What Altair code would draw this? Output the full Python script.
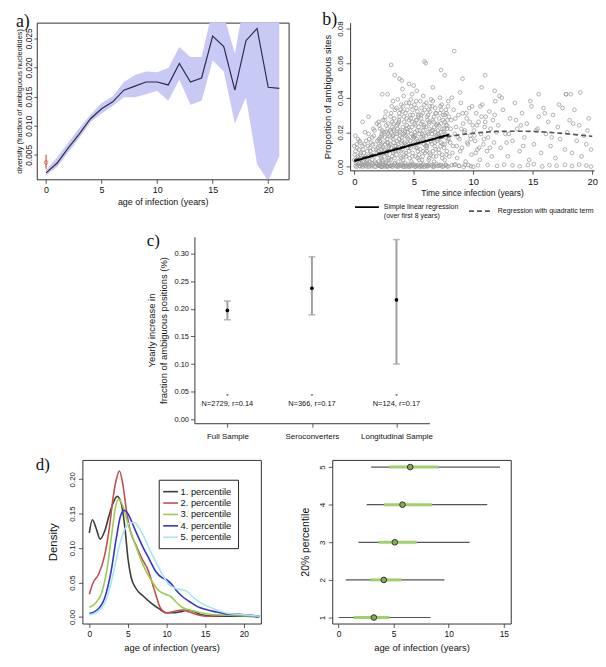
import altair as alt
import pandas as pd

FONT = "Liberation Sans"
SERIF = "Liberation Serif"

# ---------------- panel a data ----------------
a_year = list(range(22))
a_mean = [0.0019, 0.0036, 0.0062, 0.0086, 0.0112, 0.0129, 0.0141, 0.0161, 0.0168, 0.0175, 0.0175,
          0.0170, 0.0207, 0.0175, 0.0182, 0.0254, 0.0236, 0.0161, 0.0246, 0.0267, 0.0166, 0.0164]
a_lo = [0.0015, 0.0029, 0.0054, 0.0079, 0.0106, 0.0121, 0.0134, 0.0149, 0.0149, 0.0154, 0.0160,
        0.0143, 0.0179, 0.0136, 0.0143, 0.0212, 0.0193, 0.0104, 0.0149, 0.0034, 0.0005, 0.0048]
a_hi = [0.0024, 0.0046, 0.0071, 0.0096, 0.0119, 0.0139, 0.0150, 0.0175, 0.0187, 0.0193, 0.0192,
        0.0199, 0.0235, 0.0218, 0.0218, 0.0300, 0.0290, 0.0224, 0.0330, 0.0350, 0.0350, 0.0350]
a_ref_year = [0]
a_ref_val = [0.0037]
a_ref_lo = [0.0026]
a_ref_hi = [0.0050]

# ---------------- panel b data ----------------
b_x = [
    # floor
    0.1, 0.3, 0.5, 0.6, 0.8, 1.0, 1.1, 1.3, 1.5, 1.7, 1.9, 2.0, 2.2, 2.4, 2.6, 2.7, 2.9, 3.1, 3.3, 3.4,
    3.6, 3.8, 4.0, 4.1, 4.3, 4.5, 4.7, 4.9, 5.0, 5.2, 5.4, 5.6, 5.8, 6.0, 6.1, 6.3, 6.5, 6.7, 6.9, 7.1,
    7.3, 7.5, 7.7, 7.9, 8.2, 8.5, 8.8, 9.3, 9.8, 10.4,
    0.2, 0.45, 0.7, 0.95, 1.2, 1.45, 1.8, 2.1, 2.35, 2.55, 2.8, 3.0, 3.2, 3.5, 3.7, 3.9, 4.2, 4.4, 4.6, 4.8,
    5.1, 5.3, 5.5, 5.7, 5.9, 6.2, 6.6, 7.0, 7.4, 7.8,
    11.2, 12.0, 12.6, 13.3, 13.9, 14.6, 15.1, 15.8, 16.4, 17.0, 17.7, 18.3, 18.9, 19.5, 19.9,
    # early years
    0.0, 0.1, 0.2, 0.2, 0.3, 0.4, 0.4, 0.5, 0.6, 0.7, 0.7, 0.8, 0.9, 1.0, 1.0, 1.1, 1.2, 1.3, 1.3, 1.4,
    1.5, 1.5, 1.6, 1.7, 1.8, 1.8, 1.9, 2.0, 0.1, 0.3, 0.5, 0.9, 1.2, 1.6, 1.9, 0.0, 0.6, 1.1, 1.4, 1.7,
    0.05, 0.15, 0.25, 0.35, 0.45, 0.55, 0.65, 0.75, 0.85, 0.95, 1.05, 1.15, 1.25, 1.35, 1.45, 1.55, 1.65,
    1.75, 1.85, 1.95,
    # dense cloud 2-8 years
    2.05, 2.1, 2.15, 2.2, 2.25, 2.3, 2.35, 2.4, 2.45, 2.1, 2.2, 2.3, 2.4, 2.15, 2.35,
    2.55, 2.6, 2.65, 2.7, 2.75, 2.8, 2.85, 2.9, 2.95, 2.6, 2.7, 2.8, 2.9, 2.65, 2.85,
    3.05, 3.1, 3.15, 3.2, 3.25, 3.3, 3.35, 3.4, 3.45, 3.1, 3.2, 3.3, 3.4, 3.15, 3.35, 3.25, 3.45,
    3.55, 3.6, 3.65, 3.7, 3.75, 3.8, 3.85, 3.9, 3.95, 3.6, 3.7, 3.8, 3.9, 3.65, 3.85, 3.75, 3.95,
    4.05, 4.1, 4.15, 4.2, 4.25, 4.3, 4.35, 4.4, 4.45, 4.1, 4.2, 4.3, 4.4, 4.15, 4.35, 4.25, 4.45, 4.05,
    4.55, 4.6, 4.65, 4.7, 4.75, 4.8, 4.85, 4.9, 4.95, 4.6, 4.7, 4.8, 4.9, 4.65, 4.85, 4.75, 4.95,
    5.05, 5.1, 5.15, 5.2, 5.25, 5.3, 5.35, 5.4, 5.45, 5.1, 5.2, 5.3, 5.4, 5.15, 5.35, 5.25, 5.45,
    5.55, 5.6, 5.65, 5.7, 5.75, 5.8, 5.85, 5.9, 5.95, 5.6, 5.7, 5.8, 5.9, 5.65, 5.85, 5.75,
    6.05, 6.1, 6.15, 6.2, 6.25, 6.3, 6.35, 6.4, 6.45, 6.1, 6.2, 6.3, 6.4, 6.15, 6.35,
    6.55, 6.6, 6.65, 6.7, 6.75, 6.8, 6.85, 6.9, 6.95, 6.6, 6.7, 6.8, 6.9, 6.65,
    7.05, 7.1, 7.15, 7.2, 7.25, 7.3, 7.35, 7.4, 7.45, 7.1, 7.2, 7.3, 7.4,
    7.55, 7.6, 7.65, 7.7, 7.75, 7.8, 7.85, 7.9, 7.95, 7.6, 7.7, 7.8,
    2.02, 2.08, 2.12, 2.18, 2.22, 2.28, 2.32, 2.38, 2.42, 2.48, 2.05, 2.25,
    2.52, 2.58, 2.62, 2.68, 2.72, 2.78, 2.82, 2.88, 2.92, 2.98, 2.55, 2.75,
    3.02, 3.08, 3.12, 3.18, 3.22, 3.28, 3.32, 3.38, 3.42, 3.48, 3.05, 3.25,
    3.52, 3.58, 3.62, 3.68, 3.72, 3.78, 3.82, 3.88, 3.92, 3.98, 3.55, 3.75,
    4.02, 4.08, 4.12, 4.18, 4.22, 4.28, 4.32, 4.38, 4.42, 4.48, 4.05, 4.25,
    4.52, 4.58, 4.62, 4.68, 4.72, 4.78, 4.82, 4.88, 4.92, 4.98, 4.55, 4.75,
    5.02, 5.08, 5.12, 5.18, 5.22, 5.28, 5.32, 5.38, 5.42, 5.48, 5.05, 5.25,
    5.52, 5.58, 5.62, 5.68, 5.72, 5.78, 5.82, 5.88, 5.92, 5.98, 5.55, 5.75,
    6.02, 6.08, 6.12, 6.18, 6.22, 6.28, 6.32, 6.38, 6.42, 6.48, 6.05, 6.25,
    6.52, 6.58, 6.62, 6.68, 6.72, 6.78, 6.82, 6.88, 6.92, 6.98, 6.55, 6.75,
    7.02, 7.08, 7.12, 7.18, 7.22, 7.28, 7.32, 7.38, 7.42, 7.48, 7.05, 7.25,
    7.52, 7.58, 7.62, 7.68, 7.72, 7.78, 7.82, 7.88, 7.92, 7.98, 7.55, 7.75,
    # 8-12 years
    8.05, 8.15, 8.25, 8.35, 8.45, 8.55, 8.65, 8.75, 8.85, 8.95, 9.05, 9.15, 9.25, 9.35, 9.45, 9.55, 9.65,
    9.75, 9.85, 9.95, 10.05, 10.15, 10.25, 10.35, 10.45, 10.55, 10.65, 10.75, 10.85, 10.95, 11.05, 11.15,
    11.25, 11.35, 11.45, 11.55, 11.65, 11.75, 11.85, 11.95, 8.2, 8.6, 9.0, 9.4, 9.8, 10.2, 10.6, 11.0, 11.4, 11.8,
    8.1, 8.3, 8.5, 8.7, 8.9, 9.1, 9.3, 9.5, 9.7, 9.9, 10.1, 10.3, 10.5, 10.7, 10.9, 8.4, 8.8, 9.2, 9.6, 10.0,
    # 12-20 years
    12.1, 12.3, 12.5, 12.7, 12.9, 13.1, 13.3, 13.5, 13.7, 13.9, 14.1, 14.3, 14.5, 14.7, 14.9, 15.1, 15.3,
    15.5, 15.7, 15.9, 16.1, 16.3, 16.5, 16.7, 16.9, 17.1, 17.3, 17.5, 17.7, 17.9, 18.1, 18.3, 18.5, 18.7,
    18.9, 19.1, 19.3, 19.5, 19.7, 19.9, 12.4, 13.0, 13.6, 14.2, 14.8, 15.4, 16.0, 16.6, 17.2, 17.8, 18.4,
    19.0, 19.6, 12.8, 14.0,
    # outliers
    3.1, 3.4, 3.8, 4.0, 4.6, 5.0, 5.9, 6.0, 7.3, 7.6, 8.4, 9.1, 10.7, 11.0, 11.8, 15.5, 17.8, 18.2, 2.35, 1.2,
    0.7, 2.8, 6.6, 8.9, 12.2,
]
b_y = [
    0.0005, 0.0012, 0.0003, 0.0018, 0.0008, 0.0002, 0.0015, 0.0006, 0.0011, 0.0001, 0.0017, 0.0007, 0.0004,
    0.0013, 0.0009, 0.0002, 0.0016, 0.0005, 0.0010, 0.0019, 0.0003, 0.0008, 0.0014, 0.0001, 0.0006, 0.0012,
    0.0004, 0.0017, 0.0009, 0.0002, 0.0011, 0.0005, 0.0015, 0.0007, 0.0003, 0.0013, 0.0008, 0.0001, 0.0016,
    0.0006, 0.0010, 0.0004, 0.0012, 0.0002, 0.0009, 0.0014, 0.0005, 0.0011, 0.0003, 0.0008,
    0.0, 0.0004, 0.0, 0.0008, 0.0, 0.0003, 0.0, 0.0006, 0.0, 0.0002, 0.0, 0.0005, 0.0, 0.0003, 0.0, 0.0007,
    0.0, 0.0002, 0.0, 0.0004, 0.0, 0.0006, 0.0, 0.0001, 0.0, 0.0003, 0.0, 0.0005, 0.0, 0.0002,
    0.0010, 0.0005, 0.0012, 0.0008, 0.0003, 0.0010, 0.0015, 0.0002, 0.0009, 0.0006, 0.0011, 0.0004, 0.0013,
    0.0007, 0.0001,
    0.004, 0.009, 0.003, 0.013, 0.006, 0.002, 0.010, 0.007, 0.004, 0.012, 0.003, 0.008, 0.005, 0.015, 0.002,
    0.009, 0.006, 0.011, 0.003, 0.007, 0.017, 0.004, 0.010, 0.006, 0.013, 0.002, 0.008, 0.011, 0.018, 0.016,
    0.014, 0.020, 0.019, 0.022, 0.025, 0.012, 0.005, 0.004, 0.014, 0.021,
    0.007, 0.002, 0.011, 0.005, 0.015, 0.008, 0.001, 0.010, 0.013, 0.006, 0.003, 0.012, 0.016, 0.009, 0.002,
    0.013, 0.018, 0.003, 0.010, 0.015,
    0.003, 0.007, 0.012, 0.017, 0.005, 0.010, 0.021, 0.014, 0.008, 0.024, 0.002, 0.019, 0.027, 0.015, 0.004,
    0.006, 0.013, 0.020, 0.003, 0.016, 0.009, 0.025, 0.011, 0.018, 0.029, 0.008, 0.022, 0.005, 0.032, 0.014,
    0.004, 0.011, 0.017, 0.023, 0.008, 0.014, 0.028, 0.002, 0.019, 0.031, 0.006, 0.025, 0.012, 0.035, 0.021,
    0.038, 0.009,
    0.007, 0.015, 0.022, 0.003, 0.027, 0.011, 0.018, 0.033, 0.005, 0.024, 0.013, 0.029, 0.009, 0.039, 0.020,
    0.016, 0.036,
    0.010, 0.004, 0.019, 0.026, 0.014, 0.031, 0.008, 0.022, 0.017, 0.035, 0.012, 0.002, 0.028, 0.041, 0.006,
    0.021, 0.033, 0.045,
    0.016, 0.023, 0.005, 0.030, 0.011, 0.019, 0.026, 0.008, 0.014, 0.037, 0.021, 0.003, 0.033, 0.012, 0.042,
    0.028, 0.018,
    0.013, 0.020, 0.006, 0.027, 0.016, 0.032, 0.009, 0.023, 0.004, 0.018, 0.038, 0.011, 0.029, 0.024, 0.015,
    0.044, 0.007,
    0.010, 0.025, 0.017, 0.004, 0.031, 0.021, 0.013, 0.036, 0.008, 0.028, 0.019, 0.041, 0.015, 0.034, 0.023,
    0.006,
    0.018, 0.009, 0.027, 0.014, 0.033, 0.005, 0.022, 0.016, 0.039, 0.012, 0.030, 0.025, 0.007, 0.020, 0.035,
    0.013, 0.021, 0.006, 0.029, 0.017, 0.034, 0.010, 0.024, 0.015, 0.038, 0.003, 0.020, 0.031, 0.026,
    0.016, 0.024, 0.008, 0.031, 0.012, 0.020, 0.036, 0.005, 0.027, 0.018, 0.040, 0.014, 0.022,
    0.011, 0.026, 0.019, 0.033, 0.007, 0.022, 0.015, 0.038, 0.029, 0.004, 0.017, 0.024,
    0.009, 0.016, 0.001, 0.022, 0.006, 0.013, 0.018, 0.003, 0.011, 0.020, 0.026, 0.0,
    0.010, 0.017, 0.002, 0.024, 0.007, 0.014, 0.019, 0.004, 0.012, 0.021, 0.027, 0.0005,
    0.013, 0.020, 0.001, 0.026, 0.009, 0.016, 0.022, 0.005, 0.033, 0.010, 0.029, 0.018,
    0.012, 0.019, 0.001, 0.025, 0.009, 0.031, 0.021, 0.006, 0.014, 0.017, 0.034, 0.026,
    0.015, 0.023, 0.001, 0.029, 0.007, 0.018, 0.013, 0.037, 0.024, 0.011, 0.032, 0.020,
    0.020, 0.009, 0.027, 0.001, 0.015, 0.035, 0.023, 0.006, 0.030, 0.017, 0.013, 0.039,
    0.017, 0.025, 0.001, 0.011, 0.034, 0.021, 0.005, 0.030, 0.014, 0.019, 0.036, 0.027,
    0.021, 0.014, 0.030, 0.001, 0.026, 0.009, 0.018, 0.024, 0.033, 0.012, 0.038, 0.016,
    0.023, 0.011, 0.029, 0.001, 0.019, 0.026, 0.008, 0.032, 0.015, 0.021, 0.037, 0.004,
    0.019, 0.027, 0.009, 0.001, 0.023, 0.014, 0.031, 0.006, 0.018, 0.025, 0.035, 0.012,
    0.021, 0.010, 0.028, 0.001, 0.017, 0.025, 0.033, 0.007, 0.013, 0.030, 0.019, 0.035,
    0.020, 0.013, 0.030, 0.001, 0.024, 0.009, 0.027, 0.035, 0.016, 0.006, 0.022, 0.031,
    0.014, 0.027, 0.008, 0.033, 0.019, 0.023, 0.005, 0.030, 0.016, 0.037, 0.011, 0.025, 0.020, 0.003, 0.028,
    0.013, 0.034, 0.018, 0.007, 0.024, 0.021, 0.015, 0.031, 0.010, 0.026, 0.004, 0.019, 0.036, 0.013, 0.023,
    0.029, 0.009, 0.017, 0.032, 0.022, 0.006, 0.027, 0.014, 0.038, 0.020, 0.040, 0.012, 0.022, 0.031, 0.016,
    0.008, 0.035, 0.026, 0.011, 0.030,
    0.022, 0.012, 0.028, 0.017, 0.009, 0.031, 0.021, 0.014, 0.026, 0.035, 0.018, 0.024, 0.011, 0.029, 0.016,
    0.001, 0.0005, 0.0, 0.001, 0.0,
    0.024, 0.011, 0.033, 0.019, 0.006, 0.028, 0.015, 0.037, 0.022, 0.009, 0.031, 0.017, 0.025, 0.004, 0.035,
    0.013, 0.021, 0.029, 0.008, 0.034, 0.019, 0.026, 0.012, 0.030, 0.005, 0.023, 0.016, 0.034, 0.010, 0.020,
    0.027, 0.008, 0.033, 0.015, 0.024, 0.006, 0.018, 0.013, 0.028, 0.010, 0.040, 0.019, 0.027, 0.012, 0.038,
    0.022, 0.031, 0.017, 0.036, 0.042, 0.025, 0.043, 0.021, 0.014, 0.024,
    0.059, 0.053, 0.051, 0.050, 0.048, 0.047, 0.061, 0.060, 0.056, 0.053, 0.067, 0.051, 0.046, 0.053, 0.044,
    0.042, 0.042, 0.042, 0.042, 0.029, 0.026, 0.042, 0.046, 0.043, 0.041,
]
b_lin_t = [0, 8]
b_lin_p = [0.0033, 0.0187]
b_quad_t = [0, 2, 4, 6, 8, 10, 12, 14, 16, 18, 20]
b_quad_p = [0.0040, 0.0078, 0.0115, 0.0148, 0.0176, 0.0194, 0.0204, 0.0206, 0.0201, 0.0190, 0.0176]

# ---------------- panel c data ----------------
c_groups = ["Full Sample", "Seroconverters", "Longitudinal Sample"]
c_est = [0.197, 0.237, 0.216]
c_lo = [0.180, 0.189, 0.100]
c_hi = [0.214, 0.294, 0.325]
c_note = ["N=2729, r=0.14", "N=366, r=0.17", "N=124, r=0.17"]

# ---------------- panel d data ----------------
d_names = ["1. percentile", "2. percentile", "3. percentile", "4. percentile", "5. percentile"]
d_colors = ["#3c3c3c", "#c0504d", "#9acd55", "#3535c8", "#a8e6f2"]
d1_t = [0, 0.4, 0.9, 1.4, 2.0, 2.5, 3.0, 3.6, 4.1, 4.6, 5.0, 5.4, 6.0, 7.0, 8.0, 9.0, 10.0, 11.0, 12.0,
        12.7, 13.5, 14.5, 16, 18, 20, 22]
d1_v = [0.122, 0.141, 0.128, 0.113, 0.125, 0.145, 0.163, 0.175, 0.166, 0.130, 0.085, 0.058, 0.042, 0.030,
        0.020, 0.012, 0.006, 0.006, 0.008, 0.010, 0.008, 0.003, 0.001, 0.001, 0.001, 0.0]
d2_t = [0, 0.5, 1.2, 2.0, 2.6, 3.1, 3.5, 3.9, 4.3, 4.8, 5.3, 6.0, 6.8, 7.6, 8.4, 9.2, 10.0, 11.0, 12.0,
        13.0, 14.0, 15.0, 17.0, 19.0, 21.0, 22]
d2_v = [0.033, 0.050, 0.062, 0.090, 0.130, 0.175, 0.200, 0.212, 0.195, 0.155, 0.125, 0.105, 0.085, 0.068,
        0.040, 0.013, 0.006, 0.008, 0.010, 0.007, 0.003, 0.001, 0.002, 0.004, 0.002, 0.001]
d3_t = [0, 0.8, 1.6, 2.3, 2.9, 3.4, 3.8, 4.3, 5.0, 5.8, 6.6, 7.4, 8.2, 9.0, 9.8, 10.5, 11.2, 12.0, 13.0,
        14.0, 15.5, 17, 19, 21, 22]
d3_v = [0.014, 0.020, 0.035, 0.070, 0.120, 0.160, 0.171, 0.162, 0.135, 0.110, 0.085, 0.065, 0.050, 0.038,
        0.033, 0.030, 0.022, 0.014, 0.010, 0.007, 0.004, 0.003, 0.002, 0.001, 0.001]
d4_t = [0, 1.0, 2.0, 2.8, 3.5, 4.0, 4.5, 5.0, 5.6, 6.3, 7.0, 7.8, 8.6, 9.4, 10.0, 10.6, 11.3, 12.0, 13.0,
        14.0, 15.0, 16.5, 18, 20, 22]
d4_v = [0.005, 0.010, 0.028, 0.065, 0.115, 0.145, 0.155, 0.150, 0.135, 0.117, 0.100, 0.083, 0.066, 0.057,
        0.054, 0.048, 0.038, 0.030, 0.022, 0.015, 0.011, 0.007, 0.004, 0.003, 0.001]
d5_t = [0, 1.0, 2.0, 3.0, 3.8, 4.5, 5.2, 5.8, 6.4, 7.0, 7.8, 8.6, 9.4, 10.2, 11.0, 11.8, 12.5, 13.3, 14.2,
        15.2, 16.5, 18, 20, 22]
d5_v = [0.003, 0.007, 0.020, 0.058, 0.100, 0.125, 0.136, 0.137, 0.130, 0.118, 0.098, 0.080, 0.063, 0.048,
        0.042, 0.040, 0.038, 0.030, 0.022, 0.016, 0.010, 0.005, 0.003, 0.001]

dr_row = [1, 2, 3, 4, 5]
dr_wlo = [0.0, 0.65, 1.8, 2.55, 2.95]
dr_whi = [8.35, 9.6, 11.9, 13.5, 14.65]
dr_blo = [1.4, 2.9, 3.6, 4.1, 4.6]
dr_bhi = [4.6, 5.7, 7.1, 8.5, 9.05]
dr_med = [3.2, 4.1, 5.1, 5.8, 6.5]


# ---------------- helpers ----------------
def axis(title, values=None, fmt=None, rot=False, lsize=8.5, tsize=9, tpad=3, domain=False, lpad=2, angle=None,
         tick=4):
    kw = dict(title=title, domain=domain, grid=False, ticks=True, tickSize=tick, tickColor="#333",
              tickWidth=0.8, labelColor="#111", labelFont=FONT, labelFontSize=lsize, labelPadding=lpad,
              titleFont=FONT, titleFontSize=tsize, titleFontWeight="normal", titleColor="#111",
              titlePadding=tpad, labelFlush=False, labelOverlap=False)
    if values is not None:
        kw["values"] = values
    if fmt:
        kw["format"] = fmt
    if domain:
        kw.update(domainColor="#222", domainWidth=0.9)
    if rot:
        kw.update(labelAngle=270, labelAlign="center", labelBaseline="bottom")
    if angle is not None:
        kw.update(labelAngle=angle, labelAlign="center", labelBaseline="top")
    return alt.Axis(**kw)


def ptitle(txt, dx=0, dy=0, size=17):
    return alt.TitleParams(txt, anchor="start", frame="bounds", font=SERIF, fontSize=size,
                           fontWeight="normal", color="#111", offset=2, dx=dx, dy=dy)


def spacer(w, h=1):
    return alt.Chart(pd.DataFrame({"s": [0]})).mark_point(opacity=0).encode(
        x=alt.X("s:Q", axis=None), y=alt.Y("s:Q", axis=None)).properties(
        width=w, height=h, view=alt.ViewBackground(strokeOpacity=0, fillOpacity=0))


BOX = alt.ViewBackground(stroke="#333", strokeWidth=1)
NOBOX = alt.ViewBackground(strokeOpacity=0)

# ---------------- panel a ----------------
df_a = pd.DataFrame({"year": a_year, "mean": a_mean, "lo": a_lo, "hi": a_hi})
df_a0 = pd.DataFrame({"year": a_ref_year, "mean": a_ref_val, "lo": a_ref_lo, "hi": a_ref_hi})
a_xs = alt.Scale(domain=[-0.84, 21.84], nice=False, zero=False)
a_ys = alt.Scale(domain=[0.0008, 0.0277], nice=False, zero=False)
a_xa = axis("age of infection (years)", [0, 5, 10, 15, 20], lsize=9, tsize=9)
a_ya = axis("diversity (fraction of ambiguous nucleotides)", [0.005, 0.010, 0.015, 0.020, 0.025], ".3f",
            rot=True, lsize=8.5, tsize=7.5, tpad=1, lpad=0, tick=3)


def ax(f):
    return alt.X(f, scale=a_xs, axis=a_xa)


def ay(f):
    return alt.Y(f, scale=a_ys, axis=a_ya)


a_band = alt.Chart(df_a).mark_area(color="#c9c9f6", clip=True).encode(x=ax("year:Q"), y=ay("lo:Q"), y2="hi:Q")
a_line = alt.Chart(df_a).mark_line(color="#2b2b4a", strokeWidth=1.2, clip=True).encode(x=ax("year:Q"), y=ay("mean:Q"))
a_err = alt.Chart(df_a0).mark_rule(color="#cc5544", strokeWidth=1.2).encode(x=ax("year:Q"), y=ay("lo:Q"), y2="hi:Q")
a_pt = alt.Chart(df_a0).mark_point(shape="circle", filled=False, color="#cc5544", size=14, strokeWidth=1).encode(
    x=ax("year:Q"), y=ay("mean:Q"))
panel_a = alt.layer(a_band, a_line, a_err, a_pt).properties(
    width=254, height=158, title=ptitle("a)", dy=10, size=18), view=BOX)

# ---------------- panel b ----------------
df_b = pd.DataFrame({"t": b_x, "p": b_y})
df_lin = pd.DataFrame({"t": b_lin_t, "p": b_lin_p, "fit": ["lin"] * len(b_lin_t)})
df_quad = pd.DataFrame({"t": b_quad_t, "p": b_quad_p, "fit": ["quad"] * len(b_quad_t)})
b_xs = alt.Scale(domain=[-0.35, 20.15], nice=False, zero=False)
b_ys = alt.Scale(domain=[-0.0021, 0.0835], nice=False, zero=False)
b_xa = axis("Time since infection (years)", [0, 5, 10, 15, 20], lsize=9.5, tsize=8.5, domain=True)
b_ya = axis("Proportion of ambiguous sites", [0, 0.02, 0.04, 0.06, 0.08], ".2f", rot=True, lsize=8,
            tsize=9.5, domain=True, tpad=4)
b_leg = alt.Legend(title=None, orient="none", legendX=4, legendY=173, direction="horizontal", columns=2,
                   symbolType="stroke", symbolSize=580, symbolStrokeWidth=1.8, labelFont=FONT,
                   labelFontSize=7, labelColor="#111", columnPadding=6, padding=0, labelOffset=4,
                   labelExpr="datum.label == 'lin' ? ['Simple linear regression', '(over first 8 years)'] : 'Regression with quadratic term'")
b_color = alt.Color("fit:N", scale=alt.Scale(domain=["lin", "quad"], range=["#000000", "#555555"]), legend=b_leg)
b_dash = alt.StrokeDash("fit:N", scale=alt.Scale(domain=["lin", "quad"], range=[[1, 0], [5, 3]]), legend=b_leg)


def bx(f):
    return alt.X(f, scale=b_xs, axis=b_xa)


def by(f):
    return alt.Y(f, scale=b_ys, axis=b_ya)


b_pts = alt.Chart(df_b).mark_point(shape="circle", filled=False, color="#999999", size=14, strokeWidth=0.75,
                                   opacity=1).encode(x=bx("t:Q"), y=by("p:Q"))
b_quad = alt.Chart(df_quad).mark_line(strokeWidth=1.6, interpolate="monotone").encode(
    x=bx("t:Q"), y=by("p:Q"), color=b_color, strokeDash=b_dash)
b_lin = alt.Chart(df_lin).mark_line(strokeWidth=2).encode(x=bx("t:Q"), y=by("p:Q"), color=b_color, strokeDash=b_dash)
panel_b = alt.layer(b_pts, b_quad, b_lin).properties(
    width=246, height=149, title=ptitle("b)", dy=10, size=18), view=NOBOX)

# ---------------- panel c ----------------
df_c = pd.DataFrame({"grp": c_groups, "est": c_est, "lo": c_lo, "hi": c_hi, "note": c_note})
c_xs = alt.Scale(type="point", padding=0.39)
c_ys = alt.Scale(domain=[-0.007, 0.33], nice=False, zero=False)
c_xa = axis(None, lsize=8, domain=True, lpad=5, angle=0)
c_ya = axis(["Yearly increase in", "fraction of ambiguous positions (%)"],
            [0, 0.05, 0.10, 0.15, 0.20, 0.25, 0.30], ".2f", lsize=7.5, tsize=9.5, domain=True, tpad=6)


def cx():
    return alt.X("grp:N", sort=c_groups, scale=c_xs, axis=c_xa)


def cy(f):
    return alt.Y(f, scale=c_ys, axis=c_ya)


c_rule = alt.Chart(df_c).mark_rule(color="#a0a0a0", strokeWidth=2).encode(x=cx(), y=cy("lo:Q"), y2="hi:Q")
c_cap_lo = alt.Chart(df_c).mark_tick(color="#a0a0a0", size=7, thickness=1.6).encode(x=cx(), y=cy("lo:Q"))
c_cap_hi = alt.Chart(df_c).mark_tick(color="#a0a0a0", size=7, thickness=1.6).encode(x=cx(), y=cy("hi:Q"))
c_pt = alt.Chart(df_c).mark_point(shape="circle", filled=True, color="#000", size=14, opacity=1).encode(
    x=cx(), y=cy("est:Q"))
c_txt = alt.Chart(df_c).mark_text(font=FONT, fontSize=7.5, color="#111").encode(
    x=cx(), y=alt.Y(datum=0.027, scale=c_ys, axis=c_ya), text="note:N")
c_star = alt.Chart(df_c).mark_text(font=FONT, fontSize=6, color="#111", text="*").encode(
    x=cx(), y=alt.Y(datum=0.043, scale=c_ys, axis=c_ya))
panel_c = alt.layer(c_rule, c_cap_lo, c_cap_hi, c_pt, c_txt, c_star).properties(
    width=237, height=188, title=ptitle("c)", dy=15), view=NOBOX)

# ---------------- panel d (left) ----------------
d_rows = []
for name, ts, vs in zip(d_names, [d1_t, d2_t, d3_t, d4_t, d5_t], [d1_v, d2_v, d3_v, d4_v, d5_v]):
    for t, v in zip(ts, vs):
        d_rows.append({"series": name, "t": t, "dens": v})
df_dl = pd.DataFrame(d_rows)
dl_leg = alt.Legend(title=None, orient="none", legendX=77, legendY=20, symbolType="M-1.5,0H1.5", symbolSize=100,
                    symbolStrokeWidth=1.6, labelFont=FONT, labelFontSize=9.4, labelColor="#111",
                    strokeColor="#222", fillColor="white", padding=6, rowPadding=0.5)
panel_dl = alt.Chart(df_dl).mark_line(strokeWidth=1.6, interpolate="monotone").encode(
    x=alt.X("t:Q", scale=alt.Scale(domain=[-0.9, 22.2], nice=False, zero=False),
            axis=axis("age of infection (years)", [0, 5, 10, 15, 20], lsize=8.5, tsize=9.5, tpad=5)),
    y=alt.Y("dens:Q", scale=alt.Scale(domain=[-0.0096, 0.228], nice=False, zero=False),
            axis=axis("Density", [0, 0.05, 0.10, 0.15, 0.20], ".2f", rot=True, lsize=8, tsize=11.5, tpad=10)),
    color=alt.Color("series:N", scale=alt.Scale(domain=d_names, range=d_colors), legend=dl_leg),
    order=alt.Order("series:N"),
).properties(width=180, height=165, title=ptitle("d)", dx=-12, dy=16), view=BOX)

# ---------------- panel d (right) ----------------
df_dr = pd.DataFrame({"row": dr_row, "wlo": dr_wlo, "whi": dr_whi, "blo": dr_blo, "bhi": dr_bhi, "med": dr_med})
dr_xs = alt.Scale(domain=[-0.58, 15.63], nice=False, zero=False)
dr_ys = alt.Scale(domain=[0.84, 5.19], nice=False, zero=False)
dr_xa = axis("age of infection (years)", [0, 5, 10, 15], lsize=8.5, tsize=9.5, tpad=5)
dr_ya = axis("20% percentile", [1, 2, 3, 4, 5], "d", rot=True, lsize=8, tsize=10.5, tpad=8)


def drx(f):
    return alt.X(f, scale=dr_xs, axis=dr_xa)


def dry():
    return alt.Y("row:Q", scale=dr_ys, axis=dr_ya)


dr_wh = alt.Chart(df_dr).mark_rule(color="#555", strokeWidth=1.2).encode(x=drx("wlo:Q"), x2="whi:Q", y=dry())
dr_box = alt.Chart(df_dr).mark_rule(color="#9fd070", strokeWidth=3).encode(x=drx("blo:Q"), x2="bhi:Q", y=dry())
dr_pt = alt.Chart(df_dr).mark_point(shape="circle", filled=True, fill="#86ad55", stroke="#333", strokeWidth=1,
                                    size=32, opacity=1).encode(x=drx("med:Q"), y=dry())
panel_dr = alt.layer(dr_wh, dr_box, dr_pt).properties(width=180, height=165, view=BOX)

# ---------------- layout ----------------
IND = dict(color="independent", strokeDash="independent")
row1 = alt.hconcat(spacer(1), alt.hconcat(panel_a, panel_b, spacing=33).resolve_scale(**IND),
                   spacing=0).resolve_scale(**IND)
row2 = alt.hconcat(spacer(136), panel_c, spacing=0).resolve_scale(**IND)
row3 = alt.hconcat(spacer(24), alt.hconcat(panel_dl, panel_dr, spacing=36).resolve_scale(**IND),
                   spacing=0).resolve_scale(**IND)
lower = alt.vconcat(row2, row3, spacing=15).resolve_scale(**IND)
chart = alt.vconcat(row1, lower, spacing=13).resolve_scale(**IND).properties(
    padding=0).configure(font=FONT, background="white").configure_view(stroke=None)

chart.save("out.html", embed_options={"renderer": "svg", "actions": False})
